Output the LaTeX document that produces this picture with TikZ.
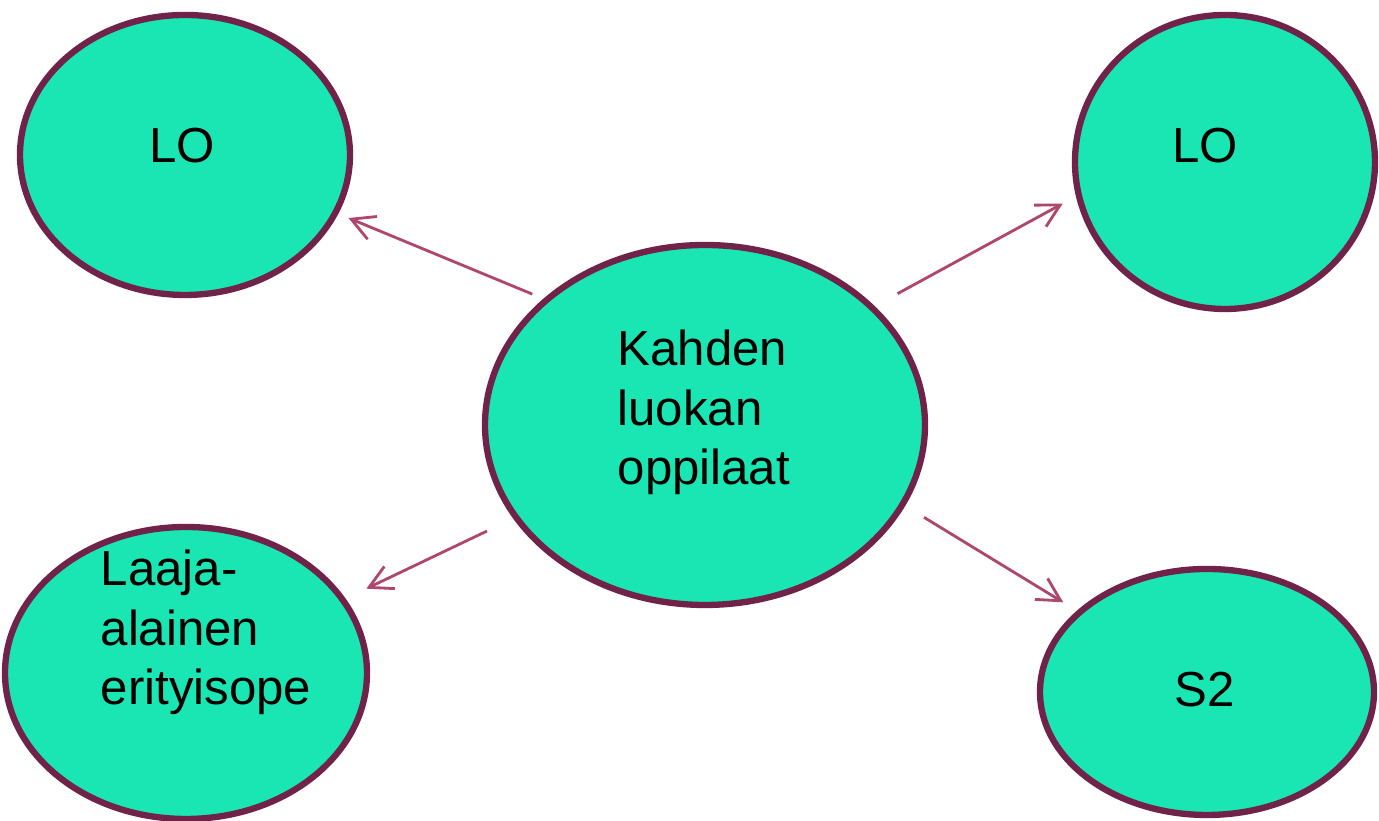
\documentclass[tikz,border=0pt]{standalone}
\usepackage{fontspec}
\setmainfont{Liberation Sans}
\usetikzlibrary{arrows.meta,shapes.geometric}
\definecolor{leaf}{RGB}{26,230,180}
\definecolor{plum}{RGB}{112,34,72}
\definecolor{rose}{RGB}{175,70,110}

\begin{document}
\begin{tikzpicture}[auto,
    ball/.style={ellipse, draw=plum, line width=1.8pt, fill=leaf, inner sep=0pt},
    word/.style={font=\fontsize{14}{17}\selectfont, align=left, inner sep=0pt},
    link/.style={draw=rose, line width=0.8pt, -{Straight Barb[length=6.5pt,width=7pt]}}]
    \useasboundingbox (0,0) rectangle (13.79,8.21);
    % circles
    \node[ball, minimum width=3.3cm, minimum height=2.8cm] (a) at (1.85, 6.66) {};
    \node[ball, minimum width=3.0cm, minimum height=2.94cm] (b) at (12.25, 6.59) {};
    \node[ball, minimum width=4.4cm, minimum height=3.6cm] (m) at (7.05, 3.96) {};
    \node[ball, minimum width=3.62cm, minimum height=2.92cm] (c) at (1.86, 1.48) {};
    \node[ball, minimum width=3.34cm, minimum height=2.46cm] (d) at (12.07, 1.29) {};
    % texts
    \node[word, anchor=base] (ta) at (1.82, 6.58) {LO};
    \node[word, anchor=base] (tb) at (12.05, 6.58) {LO};
    \node[word, anchor=base west] (tm) at (6.17, 3.36) {Kahden\\luokan\\oppilaat};
    \node[word, anchor=base west] (tc) at (1.00, 1.16) {Laaja-\\alainen\\erityisope};
    \node[word, anchor=base] (td) at (12.05, 1.14) {S2};
    % arrows
    \draw [link, shorten <=0.12cm, shorten >=0.11cm] (m.142.6) to (a.-21.5);
    \draw [link, shorten <=0.26cm, shorten >=0.15cm] (m.35.1) to (b.193.4);
    \draw [link, shorten <=0.29cm, shorten >=0.23cm] (m.206) to (c.25.1);
    \draw [link, shorten <=0.22cm, shorten >=0.16cm] (m.-22.1) to (d.148.5);
\end{tikzpicture}
\end{document}
